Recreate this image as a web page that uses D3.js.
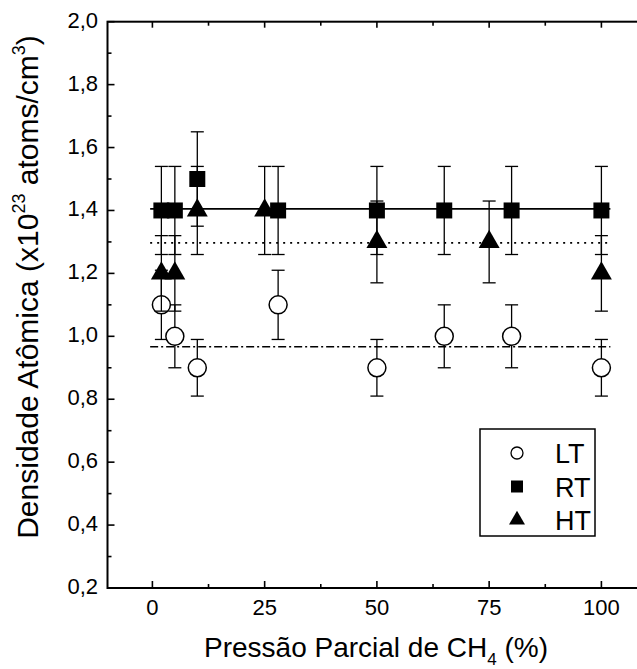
<!DOCTYPE html>
<html>
<head>
<meta charset="utf-8">
<script src="https://cdn.jsdelivr.net/npm/d3@7"></script>
<style>
  body { margin: 0; background: #fff; }
  svg { display: block; font-family: "Liberation Sans", Arial, sans-serif; }
</style>
</head>
<body>
<svg id="chart" width="637" height="669"></svg>
<script>
// data
const ltX = [2, 5, 10, 28, 50, 65, 80, 100];
const ltY = [1.1, 1.0, 0.9, 1.1, 0.9, 1.0, 1.0, 0.9];
const ltErr = [0.11, 0.1, 0.09, 0.11, 0.09, 0.1, 0.1, 0.09];

const rtX = [2, 5, 10, 28, 50, 65, 80, 100];
const rtY = [1.4, 1.4, 1.5, 1.4, 1.4, 1.4, 1.4, 1.4];
const rtErr = [0.14, 0.14, 0.15, 0.14, 0.14, 0.14, 0.14, 0.14];

const htX = [2, 5, 10, 25, 50, 75, 100];
const htY = [1.2, 1.2, 1.4, 1.4, 1.3, 1.3, 1.2];
const htErr = [0.12, 0.12, 0.14, 0.14, 0.13, 0.13, 0.12];

// horizontal mean lines
const meanLines = [
  { name: 'RT', value: 1.405, dash: null },
  { name: 'HT', value: 1.297, dash: '2,5' },
  { name: 'LT', value: 0.967, dash: '8,3,2,3' },
];
const meanRange = [-0.5, 102];

const xTicks = [0, 25, 50, 75, 100];
const yTicks = [0.2, 0.4, 0.6, 0.8, 1.0, 1.2, 1.4, 1.6, 1.8, 2.0];

const svg = d3.select('#chart');
const plotLeft = 107.5, plotTop = 21.7, plotBottom = 588;

const x = d3.scaleLinear().domain([-10, 110]).range([plotLeft, plotLeft + 120 * 4.49]);
const y = d3.scaleLinear().domain([0.2, 2.0]).range([plotBottom, plotTop]);

const plotRight = x(110);
const fmt = (v) => d3.format('.1f')(v).replace('.', ',');

// frame
svg.append('rect')
  .attr('x', plotLeft).attr('y', plotTop)
  .attr('width', plotRight - plotLeft).attr('height', plotBottom - plotTop)
  .attr('fill', 'none').attr('stroke', '#000').attr('stroke-width', 2);

// ticks (inside)
const g = svg.append('g').attr('stroke', '#000').attr('stroke-width', 1.6);
const xMinor = d3.range(-12.5, 110, 12.5).filter((v) => v > -10 && !xTicks.includes(v));
xTicks.forEach((v) => {
  g.append('line').attr('x1', x(v)).attr('x2', x(v)).attr('y1', plotBottom).attr('y2', plotBottom - 7);
  g.append('line').attr('x1', x(v)).attr('x2', x(v)).attr('y1', plotTop).attr('y2', plotTop + 6);
});
xMinor.forEach((v) => {
  g.append('line').attr('x1', x(v)).attr('x2', x(v)).attr('y1', plotBottom).attr('y2', plotBottom - 4);
  g.append('line').attr('x1', x(v)).attr('x2', x(v)).attr('y1', plotTop).attr('y2', plotTop + 4);
});
const yMinor = d3.range(0.3, 2.0, 0.2);
yTicks.forEach((v) => {
  g.append('line').attr('x1', plotLeft).attr('x2', plotLeft + 7).attr('y1', y(v)).attr('y2', y(v));
});
yMinor.forEach((v) => {
  g.append('line').attr('x1', plotLeft).attr('x2', plotLeft + 4).attr('y1', y(v)).attr('y2', y(v));
});

// tick labels
svg.append('g').selectAll('text').data(xTicks).join('text')
  .attr('x', (d) => x(d)).attr('y', 615)
  .attr('text-anchor', 'middle').attr('font-size', 22)
  .text((d) => d);
svg.append('g').selectAll('text').data(yTicks).join('text')
  .attr('x', 98).attr('y', (d) => y(d) + 6)
  .attr('text-anchor', 'end').attr('font-size', 22)
  .text(fmt);

// axis titles
const xt = svg.append('text').attr('x', 376).attr('y', 657)
  .attr('text-anchor', 'middle').attr('font-size', 28);
xt.append('tspan').text('Pressão Parcial de CH');
xt.append('tspan').attr('font-size', 17).attr('dy', 8).text('4');
xt.append('tspan').attr('dy', -8).text(' (%)');

const yt = svg.append('text').attr('transform', 'translate(38,287) rotate(-90)')
  .attr('text-anchor', 'middle').attr('font-size', 30);
yt.append('tspan').text('Densidade Atômica (x10');
yt.append('tspan').attr('font-size', 18).attr('dy', -13).text('23');
yt.append('tspan').attr('dy', 13).text(' atoms/cm');
yt.append('tspan').attr('font-size', 18).attr('dy', -13).text('3');
yt.append('tspan').attr('dy', 13).text(')');

// mean lines
svg.append('g').selectAll('line').data(meanLines).join('line')
  .attr('x1', x(meanRange[0])).attr('x2', x(meanRange[1]))
  .attr('y1', (d) => y(d.value)).attr('y2', (d) => y(d.value))
  .attr('stroke', '#000').attr('stroke-width', 1.6)
  .attr('stroke-dasharray', (d) => d.dash);

function drawSeries(xs, ys, errs, marker) {
  const pts = xs.map((v, i) => ({ x: v, y: ys[i], e: errs[i] }));
  const layer = svg.append('g');
  const eb = layer.append('g').attr('stroke', '#000').attr('stroke-width', 1.3);
  pts.forEach((p) => {
    const cx = x(p.x);
    eb.append('line').attr('x1', cx).attr('x2', cx).attr('y1', y(p.y - p.e)).attr('y2', y(p.y + p.e));
    eb.append('line').attr('x1', cx - 6.5).attr('x2', cx + 6.5).attr('y1', y(p.y - p.e)).attr('y2', y(p.y - p.e));
    eb.append('line').attr('x1', cx - 6.5).attr('x2', cx + 6.5).attr('y1', y(p.y + p.e)).attr('y2', y(p.y + p.e));
  });
  layer.append('g').selectAll('path').data(pts).join('path')
    .attr('transform', (d) => `translate(${x(d.x)},${y(d.y)})`)
    .attr('d', marker.path)
    .attr('fill', marker.fill).attr('stroke', '#000').attr('stroke-width', marker.sw);
}

const circleM = { path: d3.symbol(d3.symbolCircle, Math.PI * 81)(), fill: '#fff', sw: 1.5 };
const squareM = { path: d3.symbol(d3.symbolSquare, 256)(), fill: '#000', sw: 0 };
const triM = { path: d3.symbol(d3.symbolTriangle, 190)(), fill: '#000', sw: 0 };

drawSeries(ltX, ltY, ltErr, circleM);
drawSeries(rtX, rtY, rtErr, squareM);
drawSeries(htX, htY, htErr, triM);

// legend
const legendItems = [
  { label: 'LT', path: d3.symbol(d3.symbolCircle, Math.PI * 36)(), fill: '#fff', sw: 1.3 },
  { label: 'RT', path: d3.symbol(d3.symbolSquare, 144)(), fill: '#000', sw: 0 },
  { label: 'HT', path: d3.symbol(d3.symbolTriangle, 110)(), fill: '#000', sw: 0 },
];
const lg = svg.append('g');
lg.append('rect').attr('x', 480).attr('y', 429).attr('width', 115).attr('height', 107)
  .attr('fill', '#fff').attr('stroke', '#000').attr('stroke-width', 1.5);
legendItems.forEach((d, i) => {
  const cy = 453 + i * 33.5;
  lg.append('path').attr('transform', `translate(517,${cy})`).attr('d', d.path)
    .attr('fill', d.fill).attr('stroke', '#000').attr('stroke-width', d.sw);
  lg.append('text').attr('x', 555).attr('y', cy + 10).attr('font-size', 27).text(d.label);
});
</script>
</body>
</html>
